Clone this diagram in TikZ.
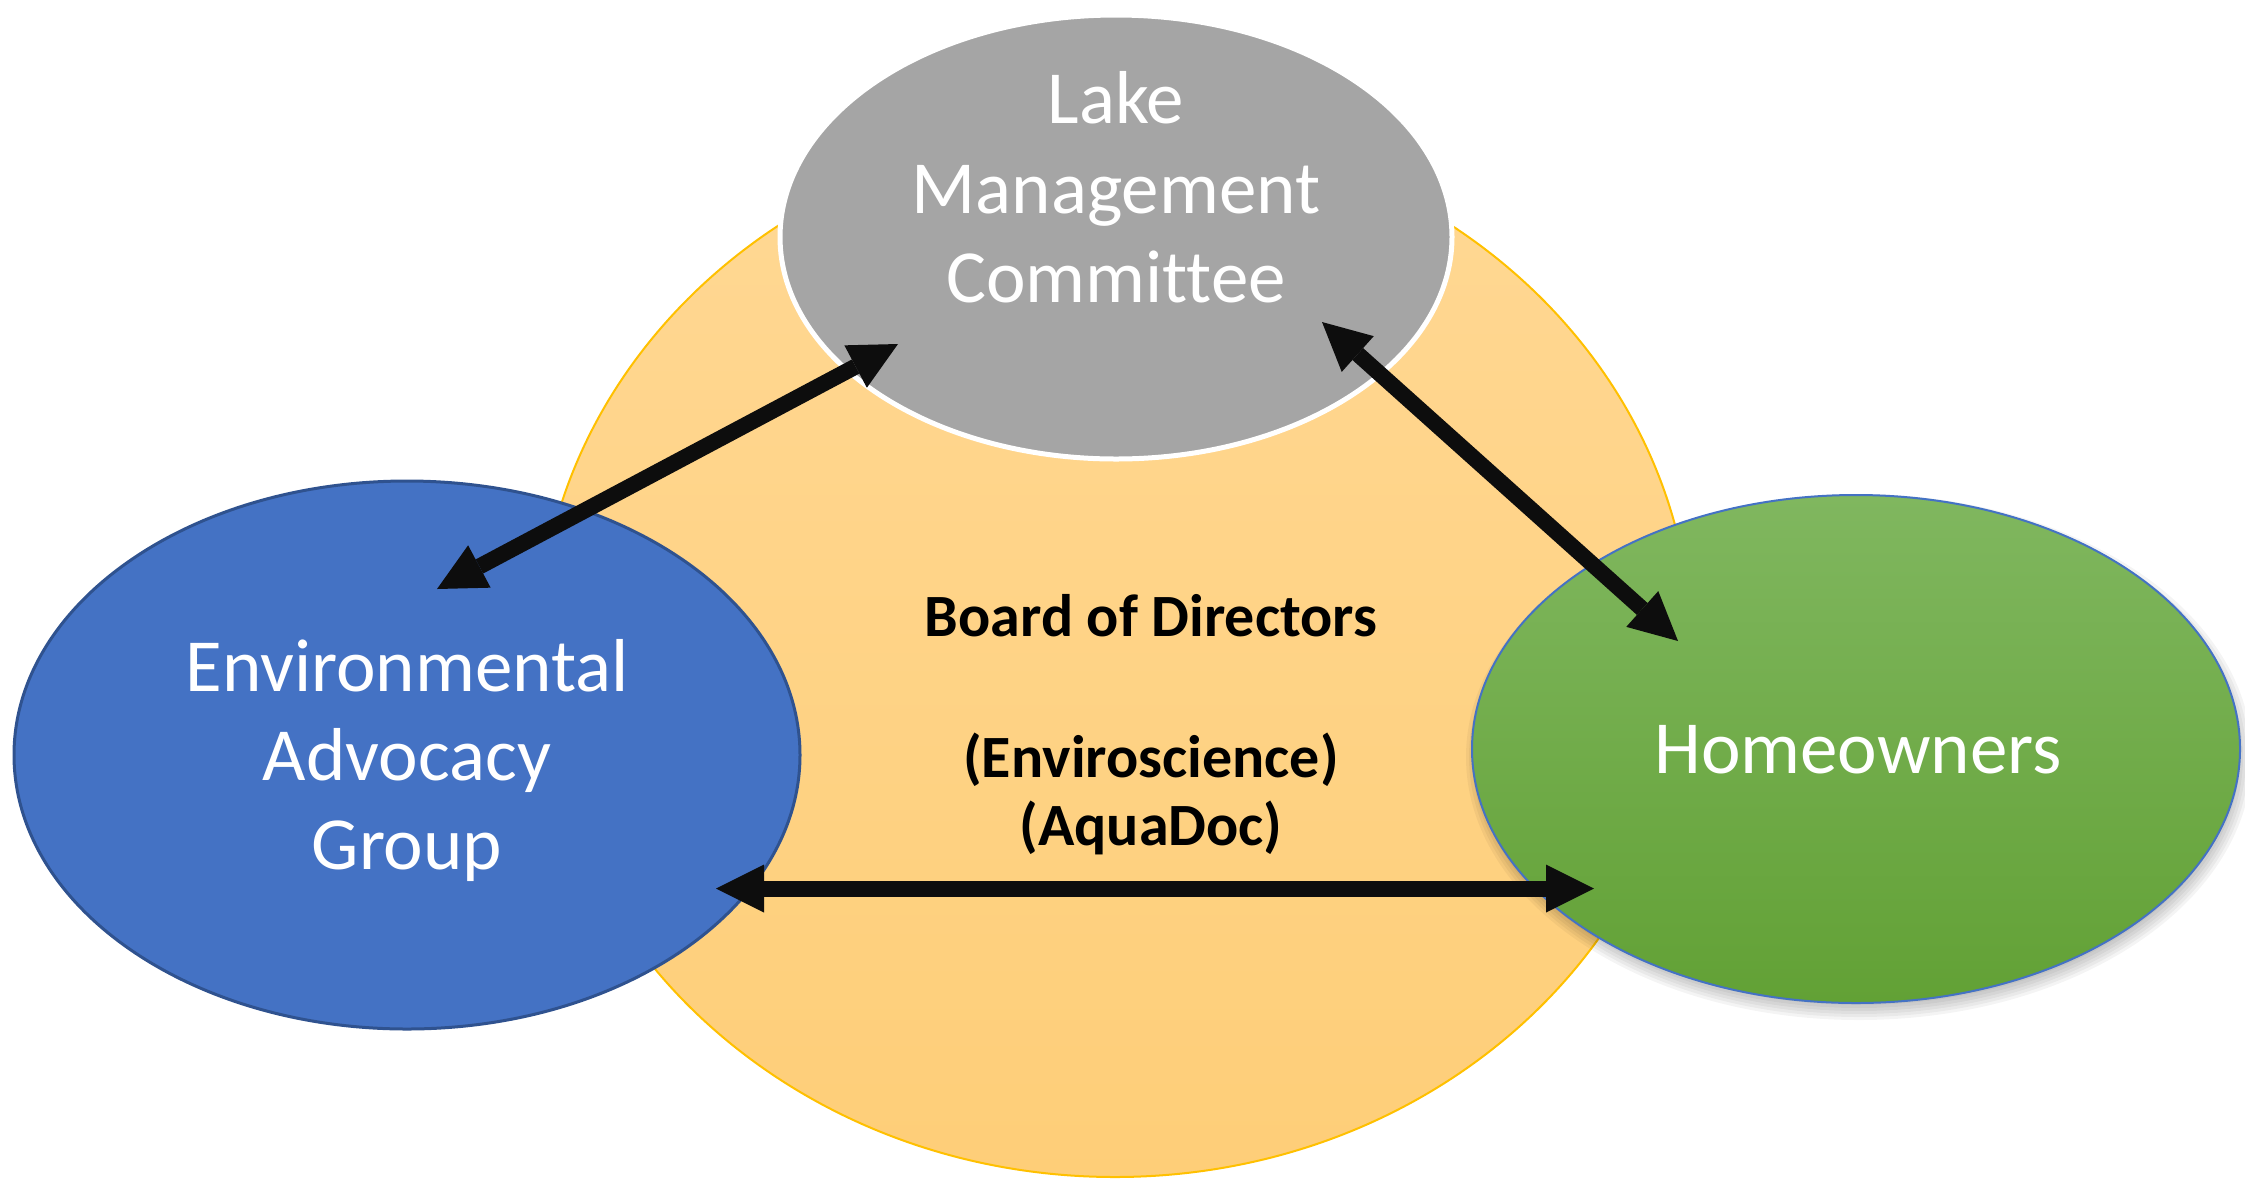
\documentclass[tikz,border=0pt]{standalone}
\usepackage{fontspec}
\setmainfont[Ligatures=NoCommon]{Carlito}
\usetikzlibrary{arrows.meta,shapes.geometric}
\definecolor{orangeT}{HTML}{FFD894}
\definecolor{orangeB}{HTML}{FECE78}
\definecolor{orangeE}{HTML}{FFC000}
\definecolor{greyF}{HTML}{A5A5A5}
\definecolor{blueF}{HTML}{4472C4}
\definecolor{blueE}{HTML}{2F528F}
\definecolor{greenT}{HTML}{80B75F}
\definecolor{greenB}{HTML}{62A135}
\definecolor{arrowC}{HTML}{0D0D0D}
\begin{document}
\begin{tikzpicture}[x=1pt,y=-1pt,
  bubble/.style={ellipse, inner sep=0pt, outer sep=0pt},
  link/.style={draw=arrowC, line width=16pt, {Triangle[length=48pt,width=48pt,line width=0pt]}-{Triangle[length=48pt,width=48pt,line width=0pt]}},
  whitetxt/.style={text=white, font=\fontsize{75}{89}\selectfont, anchor=base, inner sep=0pt},
  boardtxt/.style={text=black, font=\bfseries\fontsize{60}{70}\selectfont, anchor=base, inner sep=0pt}]
\useasboundingbox (0,0) rectangle (2245,1179);
% background board ellipse
\node[bubble, minimum width=1154pt, minimum height=1050pt, top color=orangeT, bottom color=orangeB, draw=orangeE, line width=2pt] (board) at (1115,652) {};
% lake management committee
\node[bubble, minimum width=672pt, minimum height=444pt, fill=greyF, draw=white, line width=5pt] (lmc) at (1116,237) {};
% environmental advocacy group
\node[bubble, minimum width=786pt, minimum height=548pt, fill=blueF, draw=blueE, line width=3pt] (eag) at (407,755) {};
% shadow of homeowners
\foreach \s in {0,3,...,15} \fill[black, opacity=0.045] (1859,757) ellipse ({378+\s} and {248+\s});
% homeowners
\node[bubble, minimum width=768pt, minimum height=508pt, top color=greenT, bottom color=greenB, draw=blueF, line width=2pt] (home) at (1856,749) {};
% arrow end points
\coordinate (eagA) at (437,589);
\coordinate (lmcA) at (898,344);
\coordinate (lmcB) at (1322,322);
\coordinate (homeA) at (1678,641);
\coordinate (eagB) at (716,888.5);
\coordinate (homeB) at (1594,888.5);
\draw[link] (eagA) -- (lmcA);
\draw[link] (lmcB) -- (homeA);
\draw[link] (eagB) -- (homeB);
% texts
\node[whitetxt] (lmc1) at (1116,123) {Lake};
\node[whitetxt] (lmc2) at (1116,213) {Management};
\node[whitetxt] (lmc3) at (1116,302) {Committee};
\node[whitetxt] (eag1) at (407,691) {Environmental};
\node[whitetxt] (eag2) at (407,780) {Advocacy};
\node[whitetxt] (eag3) at (407,869) {Group};
\node[whitetxt] (home1) at (1858,773) {Homeowners};
\node[boardtxt] (board1) at (1151,636) {Board of Directors};
\node[boardtxt] (board2) at (1151,777) {(Enviroscience)};
\node[boardtxt] (board3) at (1151,845) {(AquaDoc)};
\end{tikzpicture}
\end{document}
